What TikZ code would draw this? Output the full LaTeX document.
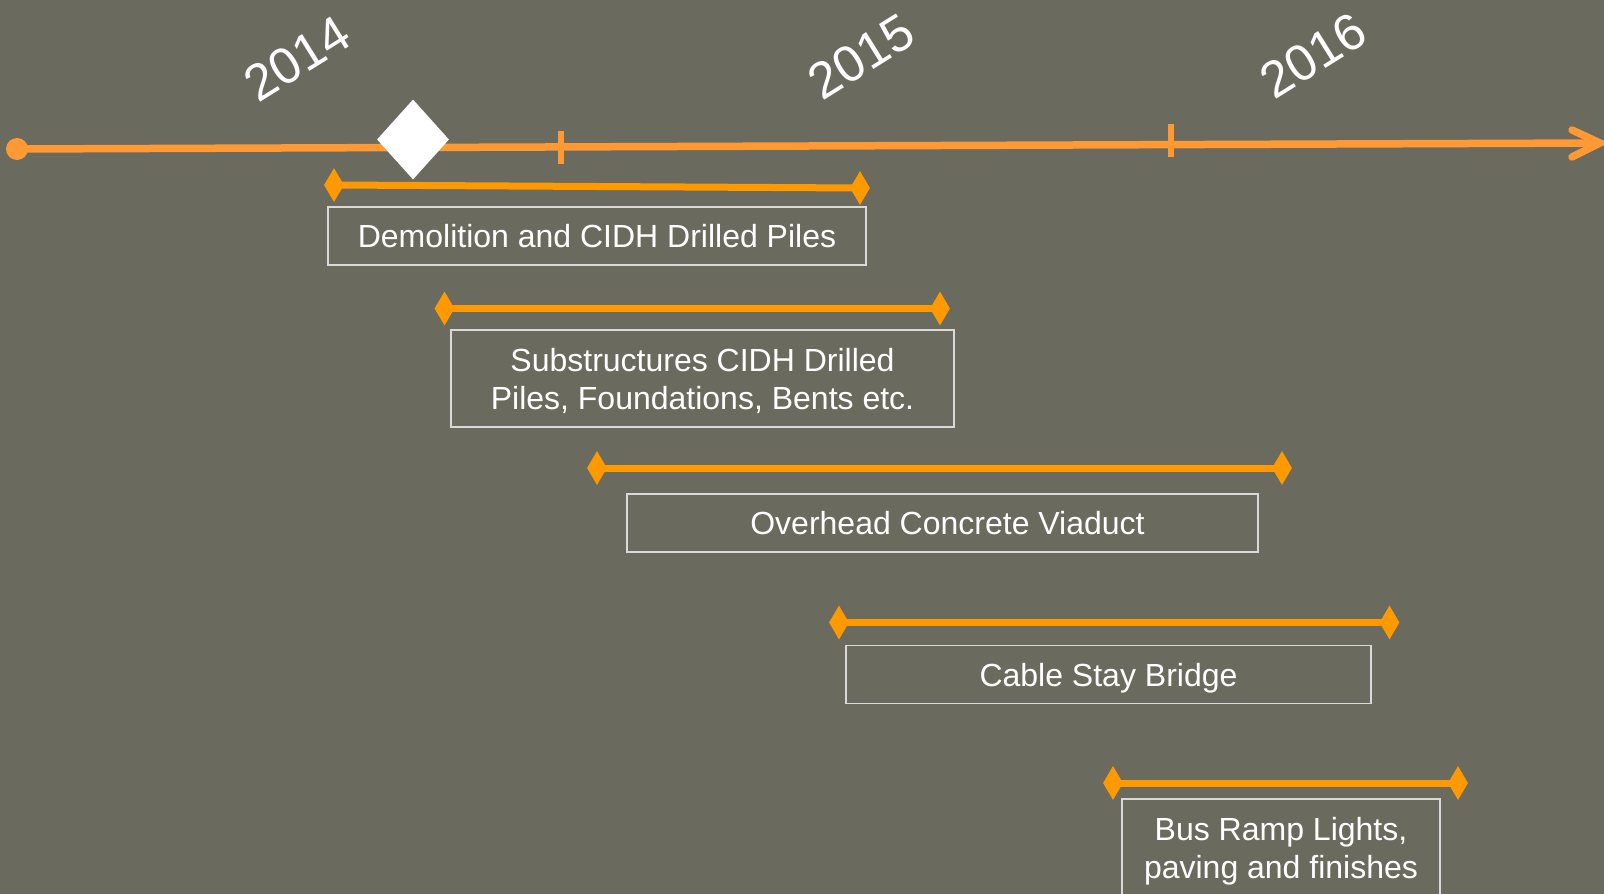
\documentclass[tikz,border=0pt]{standalone}
\usepackage{fontspec}
\setmainfont{Liberation Sans}
\usetikzlibrary{shapes.geometric}
\definecolor{bg}{RGB}{106,107,94}
\definecolor{tlorange}{RGB}{255,153,51}
\definecolor{barorange}{RGB}{255,153,0}
\definecolor{boxgrey}{RGB}{217,217,217}
\tikzset{
  bardia/.style={diamond, fill=barorange, draw=none, minimum width=20pt, minimum height=34pt, inner sep=0pt},
  barline/.style={draw=barorange, line width=7pt},
  tlline/.style={draw=tlorange, line width=7.5pt},
  taskbox/.style={draw=boxgrey, line width=1.5pt, text=white, align=center, inner sep=0pt,
    font=\fontsize{32}{38}\selectfont, text height=23pt, text depth=0pt},
  taskboxtwo/.style={taskbox, text height=61pt, text depth=0pt},
  yearlbl/.style={text=white, rotate=32, font=\fontsize{51}{60}\selectfont, inner sep=0pt},
}
\begin{document}
\begin{tikzpicture}[x=1pt,y=-1pt]
\useasboundingbox (0,0) rectangle (1604,894);
\fill[bg] (0,0) rectangle (1604,894);

% timeline
\node[circle, fill=tlorange, minimum size=22pt, inner sep=0pt] (dot) at (17,149) {};
\coordinate (tend) at (1600,143);
\coordinate (ah1) at (1572,130);
\coordinate (ah2) at (1572,157);
\draw[tlline] (dot.center) -- (tend);
\draw[tlline, line cap=round, line join=miter] (ah1) -- (tend) -- (ah2);
\coordinate (tk1a) at (561,131);
\coordinate (tk1b) at (561,164);
\coordinate (tk2a) at (1171,124);
\coordinate (tk2b) at (1171,157);
\draw[draw=tlorange, line width=6pt] (tk1a) -- (tk1b);
\draw[draw=tlorange, line width=6pt] (tk2a) -- (tk2b);

% milestone
\node[diamond, fill=white, minimum width=72pt, minimum height=80pt, inner sep=0pt] (ms) at (413,139.5) {};

% years
\node[yearlbl] (y2014) at (297,59) {2014};
\node[yearlbl] (y2015) at (861,57) {2015};
\node[yearlbl] (y2016) at (1313,56) {2016};

% bars
\node[bardia] (b1l) at (334,185) {};
\node[bardia] (b1r) at (860,188) {};
\draw[barline] (b1l.center) -- (b1r.center);
\node[bardia] (b2l) at (444.5,308.5) {};
\node[bardia] (b2r) at (940,308.5) {};
\draw[barline] (b2l.center) -- (b2r.center);
\node[bardia] (b3l) at (597,468) {};
\node[bardia] (b3r) at (1282,468) {};
\draw[barline] (b3l.center) -- (b3r.center);
\node[bardia] (b4l) at (839,622.5) {};
\node[bardia] (b4r) at (1389.5,622.5) {};
\draw[barline] (b4l.center) -- (b4r.center);
\node[bardia] (b5l) at (1113,783) {};
\node[bardia] (b5r) at (1458,783) {};
\draw[barline] (b5l.center) -- (b5r.center);

% boxes
\node[taskbox, minimum width=538pt, minimum height=58pt] (t1) at (597,236) {Demolition and CIDH Drilled Piles};
\node[taskboxtwo, minimum width=503pt, minimum height=97pt] (t2) at (702.5,378.5) {Substructures CIDH Drilled\\Piles, Foundations, Bents etc.};
\node[taskbox, minimum width=631pt, minimum height=58pt] (t3) at (942.5,523) {\hspace*{10pt}Overhead Concrete Viaduct};
\node[taskbox, minimum width=525pt, minimum height=58pt] (t4) at (1108.5,674.5) {Cable Stay Bridge};
\node[taskboxtwo, minimum width=318pt, minimum height=97pt] (t5) at (1281,847.5) {Bus Ramp Lights,\\paving and finishes};
\end{tikzpicture}
\end{document}
